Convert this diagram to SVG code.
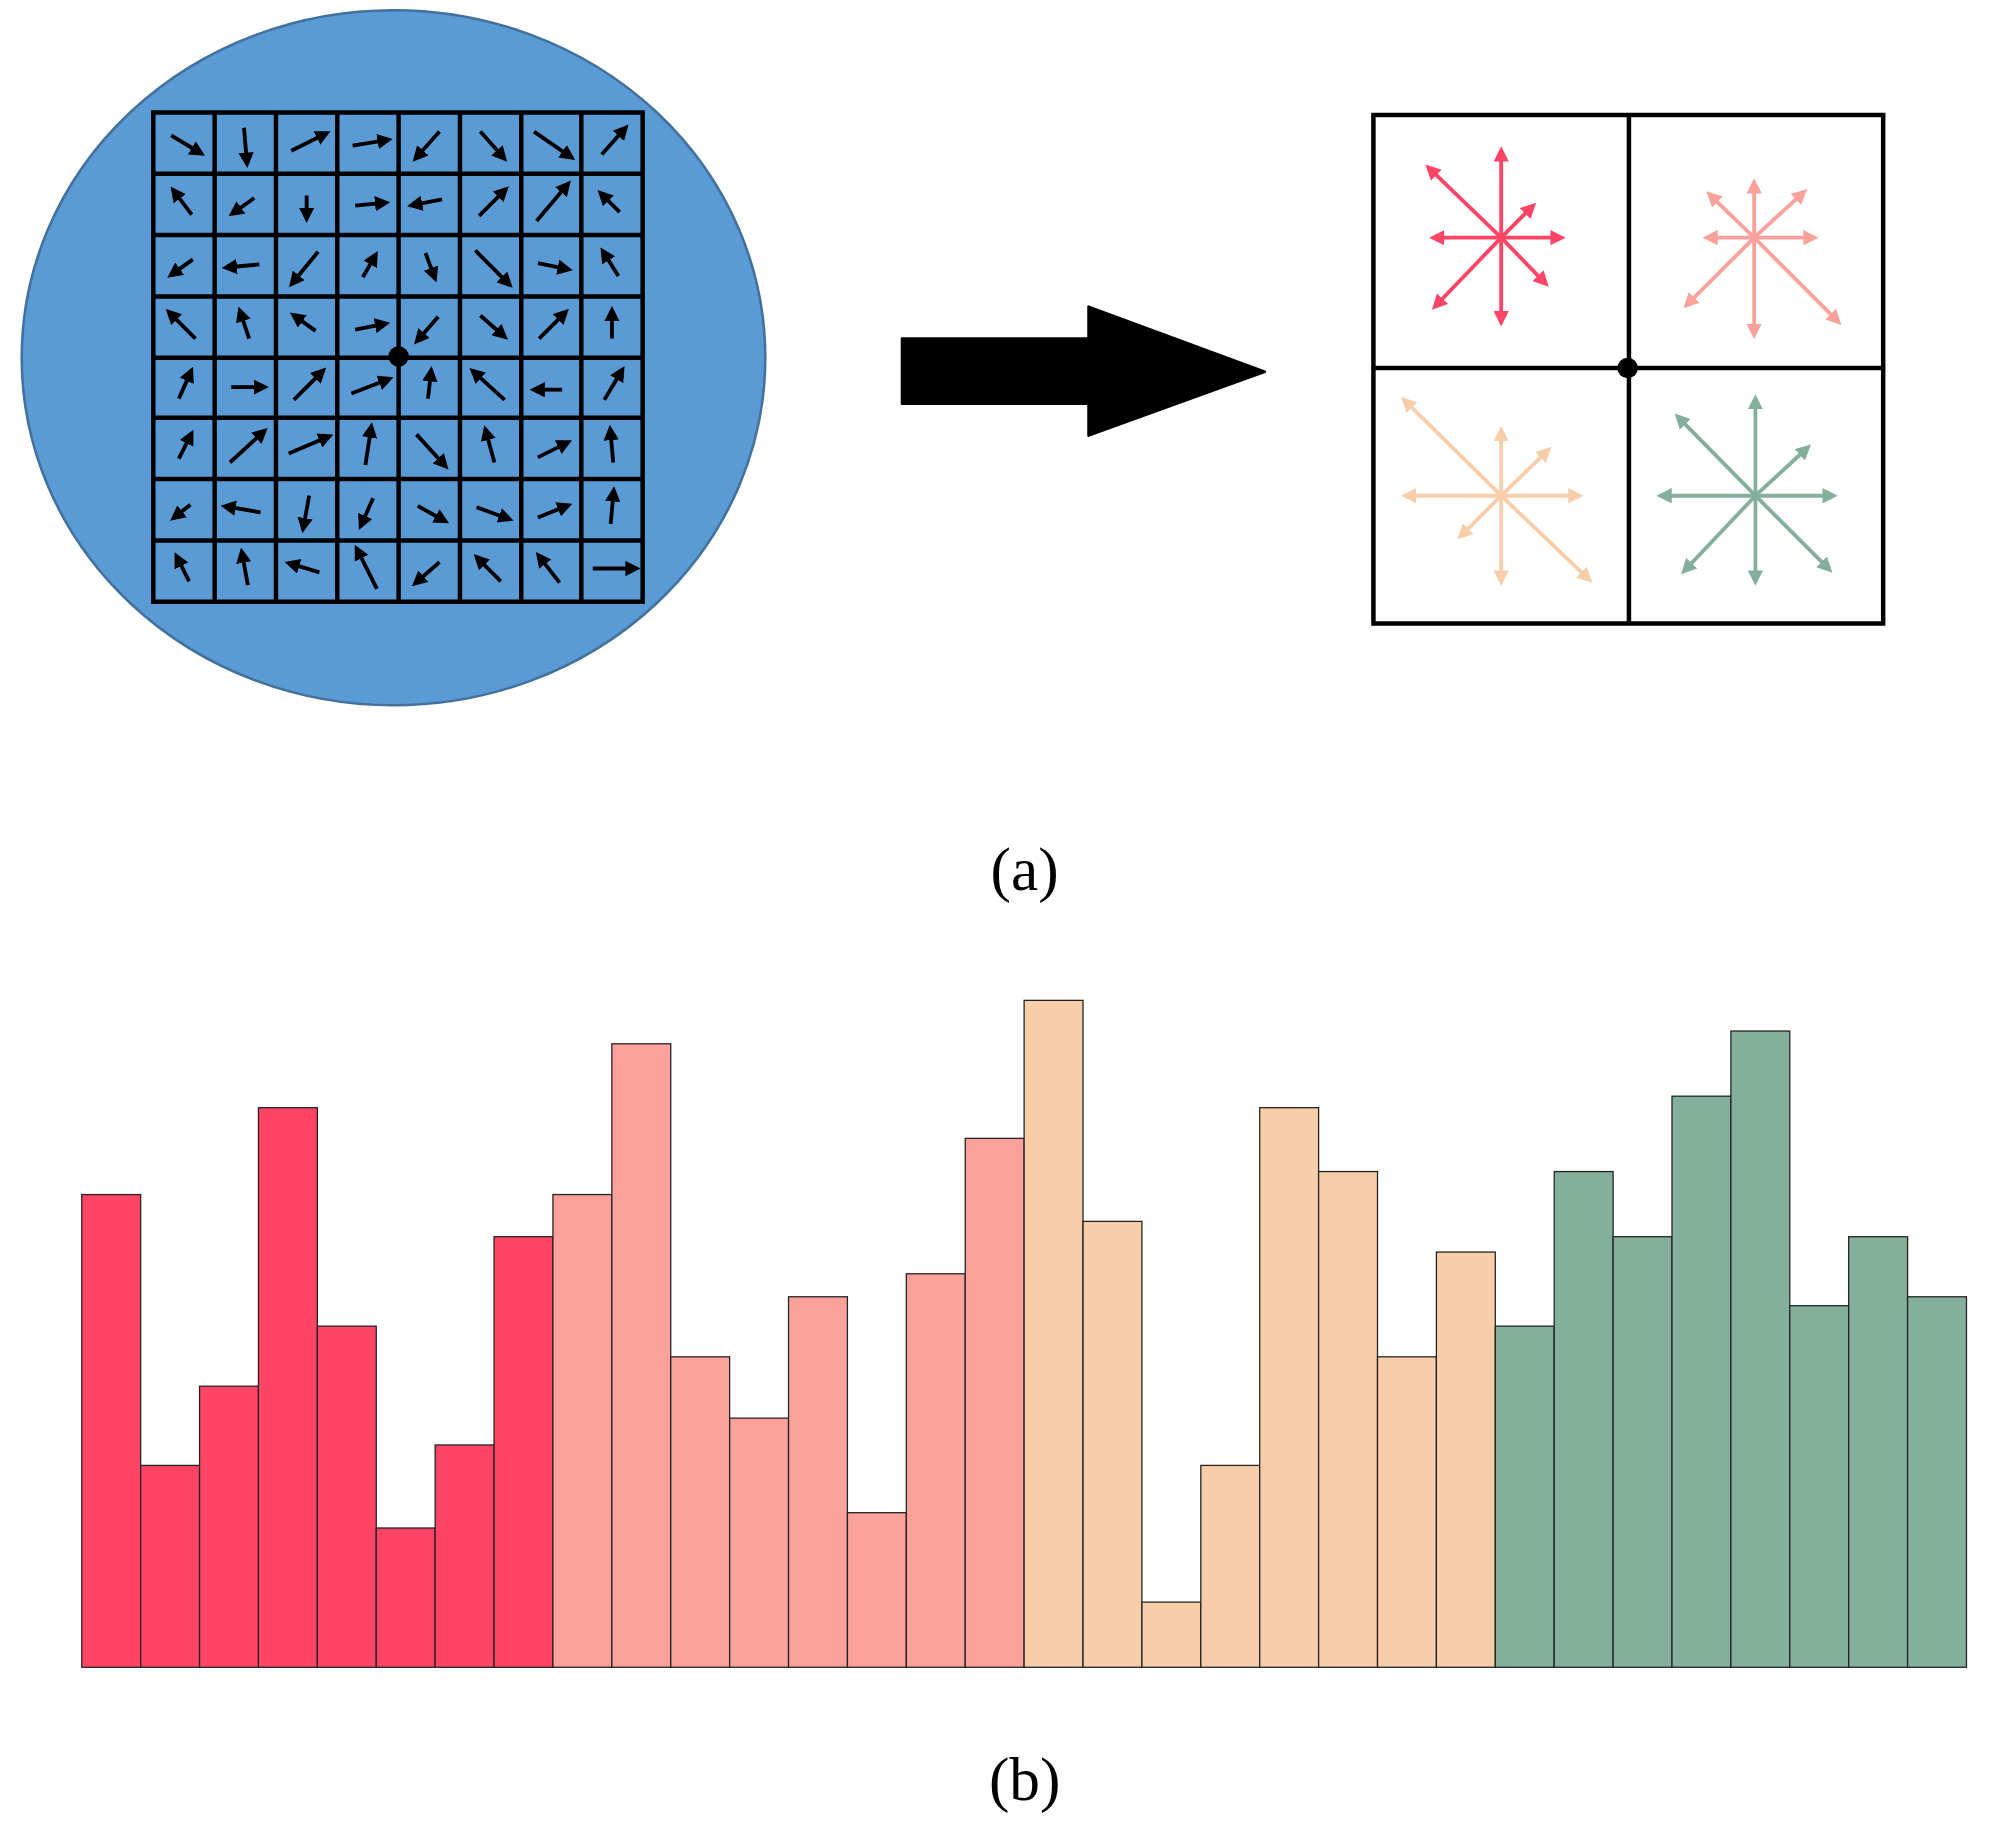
<svg xmlns="http://www.w3.org/2000/svg" width="2001" height="1848" viewBox="0 0 2001 1848">
<style>
.sa{stroke:#000;stroke-width:3;marker-end:url(#hk)}
.g{fill:none;stroke:#000;stroke-width:3.5;stroke-linecap:square}
.rs line{stroke:#FF4466;stroke-width:3;marker-end:url(#hr)}
.ps line{stroke:#F9A19A;stroke-width:3;marker-end:url(#hp)}
.os line{stroke:#F8CDA9;stroke-width:3;marker-end:url(#ho)}
.gs line{stroke:#83AF9B;stroke-width:3;marker-end:url(#hg)}
.b{stroke:#222;stroke-width:1}
.r{fill:#FF4466}.p{fill:#F9A19A}.o{fill:#F8CDA9}.gr{fill:#83AF9B}
text{font-family:"Liberation Serif","Times New Roman",serif;font-size:48px;text-anchor:middle}
</style>
<defs>
<marker id="hk" viewBox="0 0 4 4" refX="1.5" refY="2" markerWidth="4" markerHeight="4" orient="auto" markerUnits="strokeWidth"><path d="M0,0L4,2L0,4z" fill="#000"/></marker>
<marker id="hr" viewBox="0 0 4 4" refX="1.5" refY="2" markerWidth="4" markerHeight="4" orient="auto" markerUnits="strokeWidth"><path d="M0,0L4,2L0,4z" fill="#FF4466"/></marker>
<marker id="hp" viewBox="0 0 4 4" refX="1.5" refY="2" markerWidth="4" markerHeight="4" orient="auto" markerUnits="strokeWidth"><path d="M0,0L4,2L0,4z" fill="#F9A19A"/></marker>
<marker id="ho" viewBox="0 0 4 4" refX="1.5" refY="2" markerWidth="4" markerHeight="4" orient="auto" markerUnits="strokeWidth"><path d="M0,0L4,2L0,4z" fill="#F8CDA9"/></marker>
<marker id="hg" viewBox="0 0 4 4" refX="1.5" refY="2" markerWidth="4" markerHeight="4" orient="auto" markerUnits="strokeWidth"><path d="M0,0L4,2L0,4z" fill="#83AF9B"/></marker>
</defs>
<g transform="scale(1.2776)">
<g id="disk">
<ellipse cx="308" cy="280" rx="291" ry="272" fill="#5B9BD5" stroke="#41719C" stroke-width="2"/>
<path class="g" d="M120,88H503V471H120Z M168,88V471 M216,88V471 M264,88V471 M312,88V471 M360,88V471 M408,88V471 M455,88V471 M120,136H503 M120,184H503 M120,232H503 M120,280H503 M120,327H503 M120,375H503 M120,423H503"/>
<circle cx="312" cy="279" r="8"/>
<g id="arrows">
<g transform="translate(144,112)"><line class="sa" x1="-10" y1="-6" x2="10" y2="6"/></g>
<g transform="translate(192,112)"><line class="sa" x1="-1" y1="-12" x2="1" y2="12"/></g>
<g transform="translate(240,112)"><line class="sa" x1="-12" y1="6" x2="12" y2="-6"/></g>
<g transform="translate(288,112)"><line class="sa" x1="-12" y1="2" x2="12" y2="-2"/></g>
<g transform="translate(336,112)"><line class="sa" x1="8" y1="-9" x2="-8" y2="9"/></g>
<g transform="translate(384,112)"><line class="sa" x1="-8" y1="-9" x2="8" y2="9"/></g>
<g transform="translate(431,112)"><line class="sa" x1="-13" y1="-9" x2="13" y2="9"/></g>
<g transform="translate(479,112)"><line class="sa" x1="-8" y1="9" x2="8" y2="-9"/></g>

<g transform="translate(144,160)"><line class="sa" x1="6" y1="8" x2="-6" y2="-8"/></g>
<g transform="translate(192,160)"><line class="sa" x1="7" y1="-5" x2="-7" y2="5"/></g>
<g transform="translate(240,160)"><line class="sa" x1="0" y1="-7" x2="0" y2="7"/></g>
<g transform="translate(288,160)"><line class="sa" x1="-10" y1="1" x2="10" y2="-1"/></g>
<g transform="translate(336,158)"><line class="sa" x1="10" y1="-2" x2="-10" y2="2"/></g>
<g transform="translate(384,160)"><line class="sa" x1="-9" y1="9" x2="9" y2="-9"/></g>
<g transform="translate(431,160)"><line class="sa" x1="-11" y1="13" x2="11" y2="-13"/></g>
<g transform="translate(479,160)"><line class="sa" x1="6" y1="6" x2="-6" y2="-6"/></g>

<g transform="translate(144,208)"><line class="sa" x1="7" y1="-5" x2="-7" y2="5"/></g>
<g transform="translate(192,208)"><line class="sa" x1="11" y1="-1" x2="-11" y2="1"/></g>
<g transform="translate(240,208)"><line class="sa" x1="9" y1="-11" x2="-9" y2="11"/></g>
<g transform="translate(288,210)"><line class="sa" x1="-4" y1="7" x2="4" y2="-7"/></g>
<g transform="translate(336,206)"><line class="sa" x1="-3" y1="-8" x2="3" y2="8"/></g>
<g transform="translate(384,208)"><line class="sa" x1="-12" y1="-12" x2="12" y2="12"/></g>
<g transform="translate(431,208)"><line class="sa" x1="-10" y1="-2" x2="10" y2="2"/></g>
<g transform="translate(479,208)"><line class="sa" x1="5" y1="8" x2="-5" y2="-8"/></g>

<g transform="translate(144,256)"><line class="sa" x1="9" y1="9" x2="-9" y2="-9"/></g>
<g transform="translate(192,256)"><line class="sa" x1="3" y1="9" x2="-3" y2="-9"/></g>
<g transform="translate(240,254)"><line class="sa" x1="7" y1="5" x2="-7" y2="-5"/></g>
<g transform="translate(288,256)"><line class="sa" x1="-10" y1="2" x2="10" y2="-2"/></g>
<g transform="translate(336,256)"><line class="sa" x1="7" y1="-8" x2="-7" y2="8"/></g>
<g transform="translate(384,254)"><line class="sa" x1="-8" y1="-7" x2="8" y2="7"/></g>
<g transform="translate(431,256)"><line class="sa" x1="-9" y1="9" x2="9" y2="-9"/></g>
<g transform="translate(479,256)"><line class="sa" x1="0" y1="9" x2="0" y2="-9"/></g>

<g transform="translate(144,303)"><line class="sa" x1="-4" y1="9" x2="4" y2="-9"/></g>
<g transform="translate(192,303)"><line class="sa" x1="-11" y1="0" x2="11" y2="0"/></g>
<g transform="translate(240,303)"><line class="sa" x1="-10" y1="10" x2="10" y2="-10"/></g>
<g transform="translate(288,303)"><line class="sa" x1="-13" y1="5" x2="13" y2="-5"/></g>
<g transform="translate(336,303)"><line class="sa" x1="-1" y1="9" x2="1" y2="-9"/></g>
<g transform="translate(384,303)"><line class="sa" x1="11" y1="10" x2="-11" y2="-10"/></g>
<g transform="translate(431,305)"><line class="sa" x1="9" y1="0" x2="-9" y2="0"/></g>
<g transform="translate(479,303)"><line class="sa" x1="-6" y1="10" x2="6" y2="-10"/></g>

<g transform="translate(144,351)"><line class="sa" x1="-4" y1="8" x2="4" y2="-8"/></g>
<g transform="translate(192,351)"><line class="sa" x1="-12" y1="11" x2="12" y2="-11"/></g>
<g transform="translate(240,349)"><line class="sa" x1="-14" y1="6" x2="14" y2="-6"/></g>
<g transform="translate(288,351)"><line class="sa" x1="-2" y1="13" x2="2" y2="-13"/></g>
<g transform="translate(336,351)"><line class="sa" x1="-10" y1="-11" x2="10" y2="11"/></g>
<g transform="translate(384,351)"><line class="sa" x1="3" y1="11" x2="-3" y2="-11"/></g>
<g transform="translate(431,353)"><line class="sa" x1="-10" y1="5" x2="10" y2="-5"/></g>
<g transform="translate(479,351)"><line class="sa" x1="1" y1="11" x2="-1" y2="-11"/></g>

<g transform="translate(144,399)"><line class="sa" x1="5" y1="-4" x2="-5" y2="4"/></g>
<g transform="translate(192,399)"><line class="sa" x1="12" y1="2" x2="-12" y2="-2"/></g>
<g transform="translate(240,399)"><line class="sa" x1="2" y1="-11" x2="-2" y2="11"/></g>
<g transform="translate(288,399)"><line class="sa" x1="4" y1="-9" x2="-4" y2="9"/></g>
<g transform="translate(336,401)"><line class="sa" x1="-9" y1="-5" x2="9" y2="5"/></g>
<g transform="translate(384,401)"><line class="sa" x1="-11" y1="-4" x2="11" y2="4"/></g>
<g transform="translate(431,401)"><line class="sa" x1="-10" y1="4" x2="10" y2="-4"/></g>
<g transform="translate(479,399)"><line class="sa" x1="-1" y1="11" x2="1" y2="-11"/></g>

<g transform="translate(144,447)"><line class="sa" x1="4" y1="8" x2="-4" y2="-8"/></g>
<g transform="translate(192,447)"><line class="sa" x1="2" y1="11" x2="-2" y2="-11"/></g>
<g transform="translate(240,445)"><line class="sa" x1="10" y1="3" x2="-10" y2="-3"/></g>
<g transform="translate(288,447)"><line class="sa" x1="7" y1="14" x2="-7" y2="-14"/></g>
<g transform="translate(336,447)"><line class="sa" x1="8" y1="-7" x2="-8" y2="7"/></g>
<g transform="translate(384,447)"><line class="sa" x1="8" y1="8" x2="-8" y2="-8"/></g>
<g transform="translate(431,447)"><line class="sa" x1="7" y1="9" x2="-7" y2="-9"/></g>
<g transform="translate(479,445)"><line class="sa" x1="-15" y1="0" x2="15" y2="0"/></g>
</g>
</g>
<g id="connectors">
<path d="M706,265H852V240L990,291L852,341V316H706Z" fill="#000" stroke="#000" stroke-width="2" stroke-linejoin="round"/>
</g>
<g id="cells">
<path class="g" d="M1075,90H1474V488H1075Z M1275,90V488 M1075,288H1474" stroke-width="4"/>
<circle cx="1274" cy="288" r="8"/>
<g class="rs" transform="translate(1175,186)">
<line x1="0" y1="0" x2="0" y2="-64"/><line x1="0" y1="0" x2="0" y2="62"/><line x1="0" y1="0" x2="-49" y2="0"/><line x1="0" y1="0" x2="43" y2="0"/>
<line x1="0" y1="0" x2="-54" y2="-52"/><line x1="0" y1="0" x2="22" y2="-22"/><line x1="0" y1="0" x2="32" y2="33"/><line x1="0" y1="0" x2="-49" y2="51"/>
</g>
<g class="ps" transform="translate(1373,186)">
<line x1="0" y1="0" x2="0" y2="-39"/><line x1="0" y1="0" x2="0" y2="72"/><line x1="0" y1="0" x2="-33" y2="0"/><line x1="0" y1="0" x2="43" y2="0"/>
<line x1="0" y1="0" x2="-32" y2="-31"/><line x1="0" y1="0" x2="36" y2="-33"/><line x1="0" y1="0" x2="63" y2="63"/><line x1="0" y1="0" x2="-50" y2="50"/>
</g>
<g class="os" transform="translate(1175,388)">
<line x1="0" y1="0" x2="0" y2="-47"/><line x1="0" y1="0" x2="0" y2="63"/><line x1="0" y1="0" x2="-71" y2="0"/><line x1="0" y1="0" x2="57" y2="0"/>
<line x1="0" y1="0" x2="-73" y2="-72"/><line x1="0" y1="0" x2="34" y2="-33"/><line x1="0" y1="0" x2="66" y2="63"/><line x1="0" y1="0" x2="-29" y2="29"/>
</g>
<g class="gs" transform="translate(1374,388)">
<line x1="0" y1="0" x2="0" y2="-72"/><line x1="0" y1="0" x2="0" y2="63"/><line x1="0" y1="0" x2="-70" y2="0"/><line x1="0" y1="0" x2="57" y2="0"/>
<line x1="0" y1="0" x2="-58" y2="-59"/><line x1="0" y1="0" x2="38" y2="-35"/><line x1="0" y1="0" x2="55" y2="55"/><line x1="0" y1="0" x2="-53" y2="56"/>
</g>
</g>
<text x="802" y="697">(a)</text>
<g id="histogram">
<g class="b">
<rect class="r" x="64" y="935" width="46.1" height="370"/>
<rect class="r" x="110.1" y="1147" width="46.1" height="158"/>
<rect class="r" x="156.2" y="1085" width="46.1" height="220"/>
<rect class="r" x="202.3" y="867" width="46.1" height="438"/>
<rect class="r" x="248.4" y="1038" width="46.1" height="267"/>
<rect class="r" x="294.5" y="1196" width="46.1" height="109"/>
<rect class="r" x="340.6" y="1131" width="46.1" height="174"/>
<rect class="r" x="386.7" y="968" width="46.1" height="337"/>
<rect class="p" x="432.8" y="935" width="46.1" height="370"/>
<rect class="p" x="478.9" y="817" width="46.1" height="488"/>
<rect class="p" x="525" y="1062" width="46.1" height="243"/>
<rect class="p" x="571.1" y="1110" width="46.1" height="195"/>
<rect class="p" x="617.2" y="1015" width="46.1" height="290"/>
<rect class="p" x="663.3" y="1184" width="46.1" height="121"/>
<rect class="p" x="709.4" y="997" width="46.1" height="308"/>
<rect class="p" x="755.5" y="891" width="46.1" height="414"/>
<rect class="o" x="801.6" y="783" width="46.1" height="522"/>
<rect class="o" x="847.7" y="956" width="46.1" height="349"/>
<rect class="o" x="893.8" y="1254" width="46.1" height="51"/>
<rect class="o" x="939.9" y="1147" width="46.1" height="158"/>
<rect class="o" x="986" y="867" width="46.1" height="438"/>
<rect class="o" x="1032.1" y="917" width="46.1" height="388"/>
<rect class="o" x="1078.2" y="1062" width="46.1" height="243"/>
<rect class="o" x="1124.3" y="980" width="46.1" height="325"/>
<rect class="gr" x="1170.4" y="1038" width="46.1" height="267"/>
<rect class="gr" x="1216.5" y="917" width="46.1" height="388"/>
<rect class="gr" x="1262.6" y="968" width="46.1" height="337"/>
<rect class="gr" x="1308.7" y="858" width="46.1" height="447"/>
<rect class="gr" x="1354.8" y="807" width="46.1" height="498"/>
<rect class="gr" x="1400.9" y="1022" width="46.1" height="283"/>
<rect class="gr" x="1447" y="968" width="46.1" height="337"/>
<rect class="gr" x="1493.1" y="1015" width="46.1" height="290"/>
</g>
</g>
<text x="802" y="1409">(b)</text>
</g>
</svg>
